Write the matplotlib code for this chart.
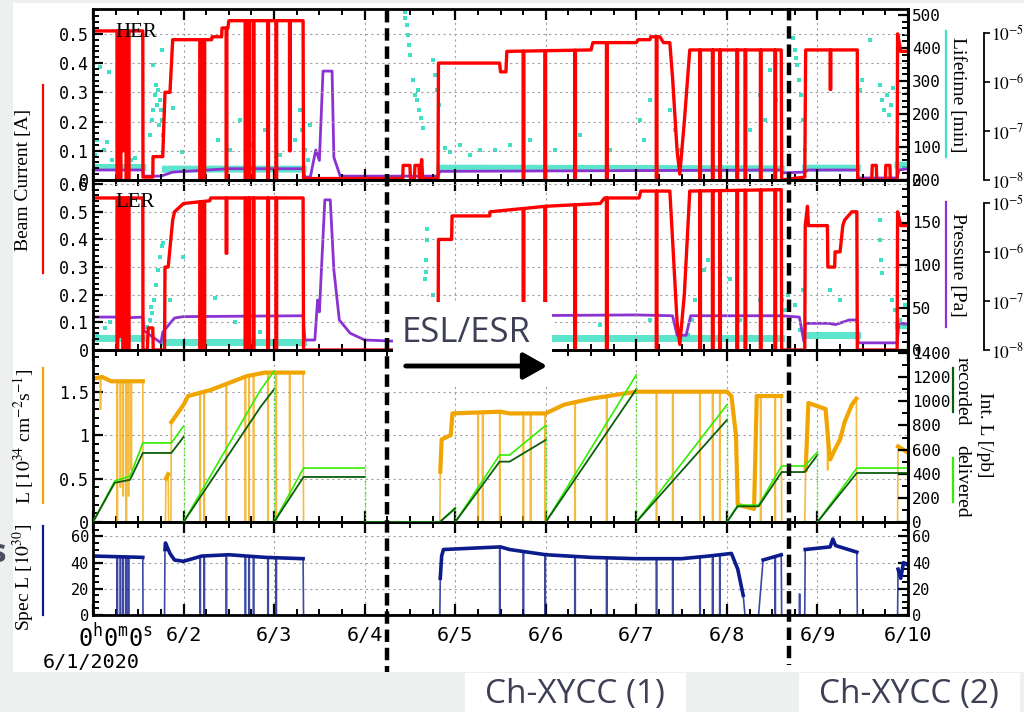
import numpy as np
import matplotlib
matplotlib.use('Agg')
import matplotlib.pyplot as plt
from matplotlib.patches import Rectangle, FancyArrowPatch
from matplotlib.lines import Line2D
from matplotlib.ticker import MultipleLocator, FuncFormatter, NullLocator

plt.rcParams['mathtext.fontset'] = 'custom'
plt.rcParams['mathtext.rm'] = 'DejaVu Sans Mono'
plt.rcParams['mathtext.it'] = 'DejaVu Sans Mono'
MONO = 'DejaVu Sans Mono'
SERIF = 'Liberation Serif'
SANS = 'Open Sans'

# time axis: days since 6/1/2020 00:00
day_labels = ['', '6/2', '6/3', '6/4', '6/5', '6/6', '6/7', '6/8', '6/9', '6/10']

# ---- HER panel ----
her_t = [0, 0.55, 0.552, 0.66, 0.663, 0.77, 0.795, 0.85, 0.88, 1.31, 1.315, 1.42, 1.425, 1.49, 1.50,
         2.32, 2.325, 3.42, 3.425, 3.50, 3.505, 3.55, 3.555, 3.60, 3.605, 3.63, 3.64, 3.81, 3.815,
         4.49, 4.50, 4.56, 4.57, 5.50, 5.52, 6.00, 6.02, 6.15, 6.16, 6.26, 6.30, 6.37, 6.40, 6.45,
         6.48, 6.53, 6.59, 7.60, 7.605, 7.86, 7.87, 8.44, 8.445, 8.60, 8.605, 8.65, 8.655, 8.75,
         8.755, 8.80, 8.805, 8.88, 8.885, 8.92, 9.0]
her_i = [0.51, 0.51, 0.01, 0.01, 0.08, 0.08, 0.30, 0.30, 0.48, 0.48, 0.49, 0.49, 0.52, 0.52, 0.545,
         0.545, 0.005, 0.005, 0.05, 0.05, 0.005, 0.005, 0.05, 0.05, 0.005, 0.07, 0.005, 0.005, 0.40,
         0.40, 0.37, 0.37, 0.44, 0.445, 0.47, 0.47, 0.48, 0.48, 0.49, 0.49, 0.47, 0.47, 0.35, 0.10,
         0.02, 0.20, 0.445, 0.445, 0.0, 0.01, 0.445, 0.445, 0.0, 0.0, 0.05, 0.05, 0.0, 0.0,
         0.05, 0.05, 0.0, 0.0, 0.50, 0.44, 0.44]
her_dips = [(0.265, 0.0), (0.30, 0.0), (0.33, 0.1), (0.365, 0.0), (0.39, 0.0), (1.18, 0.0), (1.225, 0.0),
            (1.47, 0.0), (1.68, 0.0), (1.72, 0.0), (1.77, 0.0), (1.93, 0.0), (2.02, 0.0), (2.17, 0.1),
            (4.75, 0.0), (4.99, 0.0), (5.32, 0.0), (5.67, 0.0), (6.22, 0.0), (6.70, 0.0), (6.84, 0.0),
            (6.92, 0.0), (7.11, 0.0), (7.20, 0.0), (7.37, 0.0), (7.53, 0.0), (8.14, 0.31)]
her_p_t = [0, 0.55, 0.56, 0.75, 0.88, 1.5, 2.32, 2.34, 2.40, 2.46, 2.50, 2.54, 2.57, 2.64, 2.66,
           2.73, 3.81, 3.83, 7.60, 7.61, 7.86, 7.90, 8.44, 8.45, 8.88, 8.90, 9.0]
her_p = [1.6e-8, 1.6e-8, 1.2e-8, 1.2e-8, 1.45e-8, 1.7e-8, 1.7e-8, 1.15e-8, 1.15e-8, 4.1e-8, 2.5e-8,
         1.67e-6, 1.67e-6, 1.67e-6, 2.9e-8, 1.2e-8, 1.2e-8, 1.5e-8, 1.6e-8, 1.4e-8, 1.45e-8, 1.6e-8,
         1.6e-8, 1.1e-8, 1.1e-8, 1.6e-8, 1.7e-8]
her_band_t = [0, 0.55, np.nan, 0.80, 2.32, np.nan, 3.83, 7.60, np.nan, 7.87, 8.44, np.nan, 8.89, 9.0]
her_band = [38, 38, np.nan, 33, 33, np.nan, 36, 34, np.nan, 36, 36, np.nan, 45, 45]
her_lt_t = [0.02, 0.04, 0.08, 0.15, 0.18, 0.12, 0.21, 0.30, 0.42, 0.46, 0.63, 0.65, 0.66, 0.68, 0.70,
            0.72, 0.74, 0.75, 0.76, 0.77, 0.71, 0.73, 0.76, 0.66, 0.88, 0.98, 1.18, 1.38, 1.62, 1.51,
            1.73, 1.90, 2.06, 2.23, 2.29, 2.31, 2.34, 2.37, 2.40, 3.44, 3.47, 3.48, 3.49, 3.50, 3.45,
            3.53, 3.56, 3.58, 3.60, 3.62, 3.64, 3.59, 3.75, 3.78, 3.80, 3.82, 3.89, 3.94, 4.05, 4.16,
            4.27, 4.44, 4.60, 4.83, 5.10, 5.38, 5.71, 6.04, 6.09, 6.15, 6.37, 6.43, 6.48, 6.70, 6.92,
            7.25, 7.37, 7.42, 7.48, 7.54, 7.73, 7.75, 7.77, 7.80, 7.82, 7.84, 7.86, 7.76, 8.47, 8.49,
            8.69, 8.71, 8.74, 8.77, 8.79, 8.81, 8.83, 8.58]
her_lt = [76, 121, 342, 115, 327, 91, 61, 76, 60, 67, 136, 182, 212, 258, 288,
          273, 242, 212, 182, 136, 227, 167, 394, 348, 218, 85, 221, 121, 182, 91,
          106, 152, 76, 121, 212, 152, 91, 61, 167, 509, 470, 439, 409, 379, 491,
          303, 258, 242, 212, 188, 158, 273, 364, 318, 273, 227, 97, 85, 106, 76,
          91, 91, 106, 121, 91, 136, 91, 182, 121, 242, 212, 152, 91, 121, 91,
          152, 258, 182, 333, 242, 430, 394, 348, 303, 258, 182, 91, 370, 273, 303,
          288, 242, 212, 258, 197, 227, 279, 424]

# ---- LER panel ----
ler_t = [0, 0.55, 0.552, 0.60, 0.61, 0.66, 0.665, 0.79, 0.795, 0.83, 0.88, 0.90, 1.0, 1.29, 1.30,
         2.32, 2.325, 3.81, 3.815, 3.96, 3.965, 4.38, 4.385, 5.0, 5.6, 5.65, 6.03, 6.05, 6.37, 6.40,
         6.45, 6.48, 6.53, 6.59, 7.60, 7.605, 7.86, 7.865, 7.89, 7.90, 8.11, 8.115, 8.19, 8.195, 8.25,
         8.28, 8.30, 8.38, 8.435, 8.44, 8.88, 8.885, 8.92, 9.0]
ler_i = [0.55, 0.55, 0.0, 0.0, 0.08, 0.08, 0.0, 0.0, 0.30, 0.30, 0.47, 0.50, 0.53, 0.54, 0.55,
         0.55, 0.0, 0.0, 0.40, 0.40, 0.485, 0.485, 0.50, 0.52, 0.53, 0.55, 0.55, 0.575, 0.575, 0.40,
         0.10, 0.02, 0.20, 0.575, 0.58, 0.0, 0.0, 0.45, 0.52, 0.45, 0.45, 0.30, 0.30, 0.355, 0.355,
         0.45, 0.47, 0.50, 0.50, 0.0, 0.0, 0.50, 0.45, 0.45]
ler_dips = [(0.265, 0.0), (0.30, 0.05), (0.33, 0.0), (0.365, 0.0), (0.39, 0.0), (1.18, 0.0), (1.225, 0.0),
            (1.47, 0.35), (1.68, 0.0), (1.72, 0.0), (1.77, 0.0), (1.93, 0.0), (2.02, 0.0),
            (4.75, 0.0), (4.99, 0.0), (5.32, 0.0), (5.67, 0.0), (6.22, 0.0), (6.70, 0.0), (6.84, 0.0),
            (6.92, 0.0), (7.11, 0.0), (7.20, 0.0), (7.37, 0.0), (7.53, 0.0)]
ler_p_t = [0, 0.27, 0.29, 0.33, 0.55, 0.56, 0.75, 0.77, 0.85, 0.90, 1.0, 2.32, 2.34, 2.45, 2.48, 2.50,
           2.56, 2.62, 2.66, 2.72, 2.84, 3.0, 3.81, 3.85, 6.0, 6.40, 6.45, 6.55, 6.60, 7.60, 7.80, 7.85,
           7.87, 8.12, 8.20, 8.35, 8.44, 8.45, 8.88, 8.90, 9.0]
ler_p = [4.7e-8, 4.7e-8, 2.2e-8, 4.5e-8, 4.7e-8, 2.5e-8, 1.4e-8, 2.3e-8, 3.5e-8, 4.5e-8, 4.8e-8, 5e-8,
         1.6e-8, 1.6e-8, 1.05e-7, 6e-8, 1.16e-5, 1.16e-5, 4.3e-7, 4.1e-8, 2.2e-8, 1.6e-8, 1.4e-8, 4.9e-8,
         5.2e-8, 5e-8, 2e-8, 2e-8, 5e-8, 5e-8, 4.7e-8, 1.5e-8, 3.5e-8, 3.5e-8, 3.3e-8, 4.1e-8, 4.1e-8,
         1.4e-8, 1.4e-8, 3.5e-8, 3.5e-8]
ler_band_t = [0, 0.55, np.nan, 0.80, 2.32, np.nan, 3.83, 7.60, np.nan, 7.87, 8.44, np.nan, 8.89, 9.0]
ler_band = [14, 14, np.nan, 10, 10, np.nan, 14, 14, np.nan, 18, 18, np.nan, 30, 30]
ler_lt_t = [0.60, 0.63, 0.65, 0.67, 0.70, 0.72, 0.74, 0.76, 0.77, 0.64, 0.04, 0.13, 0.19, 0.85, 0.99,
            1.35, 1.57, 1.84, 3.69, 3.69, 3.68, 3.68, 3.67, 3.75, 5.6, 6.15, 6.57, 6.61, 6.65, 6.70,
            6.75, 6.79, 6.92, 7.03, 7.14, 7.37, 7.61, 7.64, 7.67, 7.70, 7.75, 7.81, 7.84, 8.69, 8.69,
            8.70, 8.71, 8.82, 8.86, 8.91, 8.97, 8.14, 8.25]
ler_lt = [27, 35, 44, 59, 77, 94, 109, 122, 126, 51, 18, 26, 33, 59, 110,
          61, 33, 21, 142, 130, 106, 92, 83, 65, 30, 35, 18, 35, 59, 77,
          94, 106, 59, 83, 35, 59, 59, 47, 65, 35, 53, 24, 71, 153, 130,
          106, 91, 59, 47, 35, 53, 71, 59]

# ---- luminosity panel ----
lum_t = [0, 0.10, 0.20, 0.55, 0.552, 0.80, 0.805, 0.83, 0.835, 0.86, 0.865, 0.90, 1.0, 1.05, 1.30,
         1.50, 1.70, 1.90, 2.32, 2.325, 3.83, 3.835, 3.85, 3.95, 3.97, 4.50, 4.60, 5.0, 5.2, 5.5, 6.0,
         6.2, 7.0, 7.05, 7.10, 7.12, 7.30, 7.33, 7.60, 7.605, 7.86, 7.87, 7.90, 8.09, 8.13, 8.14,
         8.20, 8.25, 8.30, 8.38, 8.43, 8.435, 8.885, 8.89, 9.0]
lum = [1.65, 1.67, 1.62, 1.62, 0.0, 0.0, 0.50, 0.55, 0.0, 0.0, 1.15, 1.20, 1.35, 1.45, 1.52,
       1.60, 1.68, 1.72, 1.72, 0.0, 0.0, 0.58, 0.95, 1.0, 1.25, 1.27, 1.25, 1.25, 1.35, 1.42, 1.50,
       1.50, 1.50, 1.45, 1.0, 0.20, 0.15, 1.45, 1.45, 0.0, 0.0, 0.60, 1.37, 1.30, 0.80, 0.72,
       0.85, 0.95, 1.15, 1.35, 1.42, 0.0, 0.0, 0.87, 0.80]
lum_dips = [(0.08, 1.3), (0.265, 0.0), (0.30, 0.4), (0.33, 0.3), (0.365, 0.0), (0.39, 0.3), (0.42, 0.6),
            (1.18, 0.0), (1.225, 0.0), (1.47, 0.0), (1.68, 0.0), (1.72, 0.0), (1.77, 0.0), (1.93, 0.0),
            (2.02, 0.0), (2.17, 0.3), (4.25, 0.0), (4.30, 0.0), (4.49, 0.0), (4.75, 0.0), (4.83, 0.0),
            (4.99, 0.0), (5.32, 0.0), (5.67, 0.0), (6.22, 0.0), (6.40, 0.0), (6.70, 0.0), (6.84, 0.0),
            (6.92, 0.0), (7.37, 0.0), (7.53, 0.0), (8.11, 0.6)]
# integrated luminosity, reset every day at 0:00
int_days = [
    ([0, 0.24, 0.41, 0.55, 0.865, 1.0], [0, 340, 380, 655, 655, 795], [0, 325, 350, 572, 572, 704]),
    ([1.0, 1.85, 2.0], [0, 1094, 1250], [0, 953, 1100]),
    ([2.0, 2.325, 3.0], [0, 447, 447], [0, 373, 373]),
    ([3.0, 3.83, 4.0], [0, 0, 120], [0, 0, 112]),
    ([4.0, 4.49, 4.60, 5.0], [0, 555, 555, 800], [0, 500, 500, 680]),
    ([5.0, 6.0], [0, 1220], [0, 1100]),
    ([6.0, 7.0], [0, 970], [0, 845]),
    ([7.0, 7.12, 7.35, 7.605, 7.86, 8.0], [0, 140, 140, 464, 464, 580], [0, 130, 130, 414, 414, 555]),
    ([8.0, 8.435, 9.0], [0, 447, 447], [0, 406, 406]),
]

# ---- specific luminosity panel ----
spec_t = [0, 0.55, 0.552, 0.79, 0.795, 0.80, 0.85, 0.90, 1.0, 1.2, 1.5, 1.9, 2.32, 2.325, 3.83, 3.835,
          3.85, 3.87, 4.5, 4.6, 5.0, 5.5, 6.0, 6.5, 6.8, 7.05, 7.12, 7.18, 7.20, 7.35, 7.40, 7.60,
          7.605, 7.86, 7.865, 8.14, 8.17, 8.20, 8.435, 8.44, 8.885, 8.89, 8.92, 8.95, 9.0]
spec = [45, 44, 0, 0, 50, 55, 47, 42, 41, 45, 46, 44, 43, 0, 0, 28,
        45, 50, 52, 50, 46, 44, 43, 43, 45, 47, 35, 15, 0, 0, 42, 46,
        0, 0, 50, 52, 58, 53, 48, 0, 0, 35, 28, 40, 38]
spec_dips = [(0.265, 0.0), (0.30, 0.0), (0.33, 0.0), (0.365, 0.0), (0.39, 0.0), (1.18, 0.0), (1.225, 0.0),
             (1.47, 0.0), (1.68, 0.0), (1.72, 0.0), (1.77, 0.0), (1.93, 0.0), (2.02, 0.0),
             (4.49, 0.0), (4.75, 0.0), (4.99, 0.0), (5.32, 0.0), (5.67, 0.0), (6.22, 0.0), (6.40, 0.0),
             (6.70, 0.0), (6.84, 0.0), (6.92, 0.0), (7.53, 0.0), (7.80, 16)]

RED = '#ff0000'
CYAN = '#3fe0c5'
PURPLE = '#8c32d2'
ORANGE = '#f0a500'
NAVY = '#0c1c8c'
LIME = '#33ee00'
DKGREEN = '#0b5e0b'
SLATE = '#3d3f55'
GRID = '#a0a0a0'

W, H = 1024, 712


def fx(x):
    return x / W


def fy(y):
    return 1 - y / H


def with_dips(t, v, dips, w=0.008):
    pts = [(ti, 0, vi) for ti, vi in zip(t, v)]
    for td, low in dips:
        top = float(np.interp(td, t, v))
        pts += [(td, 1, top), (td, 2, low), (td + w, 3, low), (td + w, 4, top)]
    pts.sort()
    return [p[0] for p in pts], [p[2] for p in pts]


def beam_on(v, floor):
    # hide the parts of a trace that sit on the zero line
    v = np.asarray(v, dtype=float)
    return np.where(v > floor, v, np.nan)


fig = plt.figure(figsize=(W / 100, H / 100), dpi=100, facecolor='#eef0f0')
fig.patches.append(Rectangle((fx(13), fy(672)), 1 - fx(13), fy(3) - fy(672), transform=fig.transFigure,
                             facecolor='white', edgecolor='none', zorder=-10))

x0, x1 = 93, 908
panels = [(9, 180), (180, 350), (350, 522), (522, 615)]
axes = []
for top, bot in panels:
    ax = fig.add_axes([fx(x0), fy(bot), fx(x1) - fx(x0), (bot - top) / H])
    axes.append(ax)
ax1, ax2, ax3, ax4 = axes


def style_main(ax, major, minor):
    ax.set_xlim(0, 9)
    ax.patch.set_visible(False)
    for s in ax.spines.values():
        s.set_linewidth(2)
    ax.xaxis.set_major_locator(MultipleLocator(1))
    ax.xaxis.set_minor_locator(MultipleLocator(0.25))
    ax.yaxis.set_major_locator(MultipleLocator(major))
    ax.yaxis.set_minor_locator(MultipleLocator(minor))
    ax.tick_params(axis='x', which='both', direction='in', top=True, bottom=True, labelbottom=False)
    ax.tick_params(axis='x', which='major', length=8, width=1.6)
    ax.tick_params(axis='x', which='minor', length=4, width=1.4)
    ax.tick_params(axis='y', which='major', direction='in', length=7, width=1.6, labelsize=12, pad=3)
    ax.tick_params(axis='y', which='minor', direction='in', length=4.5, width=1.4)
    for lab in ax.get_yticklabels():
        lab.set_fontfamily(MONO)
    ax.grid(True, which='major', color=GRID, linestyle=(0, (2, 3)), linewidth=0.8)


def style_right(ax, major, minor, size=11.5):
    ax.patch.set_visible(False)
    for s in ['top', 'bottom', 'left']:
        ax.spines[s].set_visible(False)
    ax.spines['right'].set_linewidth(2)
    ax.yaxis.set_major_locator(MultipleLocator(major))
    ax.yaxis.set_minor_locator(MultipleLocator(minor))
    ax.tick_params(axis='y', which='major', direction='in', length=7, width=1.6, labelsize=size, pad=3)
    ax.tick_params(axis='y', which='minor', direction='in', length=4.5, width=1.4)
    for lab in ax.get_yticklabels():
        lab.set_fontfamily(MONO)


def style_log(ax, top):
    ax.set_yscale('log')
    ax.set_ylim(1e-8, top)
    ax.patch.set_visible(False)
    for s in ['top', 'bottom', 'left']:
        ax.spines[s].set_visible(False)
    ax.spines['right'].set_position(('axes', (984 - x0) / (x1 - x0)))
    ax.spines['right'].set_bounds(1e-8, 1e-5)
    ax.spines['right'].set_linewidth(1.3)
    ax.set_yticks([1e-8, 1e-7, 1e-6, 1e-5])
    ax.set_yticklabels([r'$10^{-8}$', r'$10^{-7}$', r'$10^{-6}$', r'$10^{-5}$'])
    ax.yaxis.set_minor_locator(NullLocator())
    ax.tick_params(axis='y', direction='out', length=4, width=1.2, labelsize=12.5, pad=1)
    for lab in ax.get_yticklabels():
        lab.set_math_fontfamily('stix')


fmt1 = FuncFormatter(lambda v, p: '0' if abs(v) < 1e-9 else f'{v:.1f}')
fmt3 = FuncFormatter(lambda v, p: '0' if abs(v) < 1e-9 else (f'{v:.0f}' if abs(v - round(v)) < 1e-9 else f'{v:.1f}'))

# --- panel 1: HER ---
ax1lt = ax1.twinx()
ax1p = ax1.twinx()
style_main(ax1, 0.1, 0.02)
ax1.set_ylim(0, 0.585)
ax1.yaxis.set_major_formatter(fmt1)
style_right(ax1lt, 100, 20)
ax1lt.set_ylim(0, 518)
style_log(ax1p, 10 ** -4.51)
ax1.set_zorder(3)
ax1p.set_zorder(2)
ax1lt.set_zorder(1)
ax1lt.plot(her_band_t, her_band, color=CYAN, lw=5, alpha=0.85)
ax1lt.plot(her_lt_t, her_lt, 's', color=CYAN, ms=2.2, mew=0)
ax1p.plot(her_p_t, her_p, color=PURPLE, lw=2)
t, v = with_dips(her_t, her_i, her_dips)
ax1.plot(t, v, color=RED, lw=2.4)
ax1.text((115 - x0) / (x1 - x0), 1 - (37 - 9) / 171, 'HER', transform=ax1.transAxes,
         fontfamily=SERIF, fontsize=15, va='baseline')

# --- panel 2: LER ---
ax2lt = ax2.twinx()
ax2p = ax2.twinx()
style_main(ax2, 0.1, 0.02)
ax2.set_ylim(0, 0.615)
ax2.yaxis.set_major_formatter(fmt1)
style_right(ax2lt, 50, 10)
ax2lt.set_ylim(0, 200)
style_log(ax2p, 10 ** -4.53)
ax2.set_zorder(3)
ax2p.set_zorder(2)
ax2lt.set_zorder(1)
ax2lt.plot(ler_band_t, ler_band, color=CYAN, lw=5, alpha=0.85)
ax2lt.plot(ler_lt_t, ler_lt, 's', color=CYAN, ms=2.2, mew=0)
ax2p.plot(ler_p_t, ler_p, color=PURPLE, lw=2)
t, v = with_dips(ler_t, ler_i, ler_dips)
ax2.plot(t, v, color=RED, lw=2.4)
ax2.text((115 - x0) / (x1 - x0), 1 - (207 - 180) / 170, 'LER', transform=ax2.transAxes,
         fontfamily=SERIF, fontsize=15, va='baseline')

# --- panel 3: luminosity ---
ax3r = ax3.twinx()
style_main(ax3, 0.5, 0.1)
ax3.set_ylim(0, 1.98)
ax3.yaxis.set_major_formatter(fmt3)
style_right(ax3r, 200, 100)
ax3r.set_ylim(0, 1425)
t, v = with_dips(lum_t, lum, lum_dips, w=0.006)
ax3.plot(t, v, color=ORANGE, lw=1.2, alpha=0.75)
ax3.plot(lum_t, beam_on(lum, 0.05), color=ORANGE, lw=3)
for dt, dd, dr in int_days:
    ax3r.plot(dt, dd, color=LIME, lw=1.2)
    ax3r.plot(dt, dr, color=DKGREEN, lw=1.3)
    if dd[-1] > 0 and dt[-1] < 9:
        ax3r.vlines(dt[-1], 0, dd[-1], colors=LIME, linestyles=':', lw=1)

# --- panel 4: spec L ---
style_main(ax4, 20, 5)
ax4.set_ylim(0, 71)
ax4.tick_params(axis='y', which='both', right=True, labelright=True, labelsize=11)
for lab in ax4.get_yticklabels(which='both'):
    lab.set_fontfamily(MONO)
t, v = with_dips(spec_t, spec, spec_dips, w=0.006)
ax4.plot(t, v, color=NAVY, lw=1.2, alpha=0.8)
ax4.plot(spec_t, beam_on(spec, 1), color=NAVY, lw=2.6)
ax4.set_xticks(range(10))
ax4.set_xticklabels(day_labels)
ax4.tick_params(axis='x', labelbottom=True, labelsize=14.5, pad=8)
for lab in ax4.get_xticklabels():
    lab.set_fontfamily(MONO)
fig.text(fx(78), fy(624), r'$\mathrm{0^{h}0^{m}0^{s}}$', fontsize=17, va='top', ha='left',
         math_fontfamily='custom')
fig.text(fx(91), fy(662), '6/1/2020', fontfamily=MONO, fontsize=14.5, ha='center', va='center')

# --- side labels ---
fig.text(fx(24), fy(180), 'Beam Current [A]', rotation=90, fontfamily=SERIF, fontsize=14,
         ha='center', va='center')
fig.add_artist(Line2D([fx(43), fx(43)], [fy(85), fy(273)], color=RED, lw=1.6))
fig.text(fx(24), fy(436), r'L [$10^{34}$ cm$^{-2}$s$^{-1}$]', rotation=90, fontfamily=SERIF,
         fontsize=14, ha='center', va='center', math_fontfamily='stix')
fig.add_artist(Line2D([fx(43), fx(43)], [fy(368), fy(503)], color=ORANGE, lw=1.6))
fig.text(fx(24), fy(577), r'Spec L [$10^{30}$]', rotation=90, fontfamily=SERIF, fontsize=14,
         ha='center', va='center', math_fontfamily='stix')
fig.add_artist(Line2D([fx(43), fx(43)], [fy(526), fy(615)], color=NAVY, lw=1.6))

fig.text(fx(958), fy(95), 'Lifetime [min]', rotation=270, fontfamily=SERIF, fontsize=14,
         ha='center', va='center')
fig.add_artist(Line2D([fx(946), fx(946)], [fy(31), fy(157)], color=CYAN, lw=1.6))
fig.text(fx(958), fy(265), 'Pressure [Pa]', rotation=270, fontfamily=SERIF, fontsize=14,
         ha='center', va='center')
fig.add_artist(Line2D([fx(946), fx(946)], [fy(202), fy(327)], color=PURPLE, lw=1.6))
fig.text(fx(985), fy(435), 'Int. L [/pb]', rotation=270, fontfamily=SERIF, fontsize=14,
         ha='center', va='center')
fig.text(fx(962), fy(391), 'recorded', rotation=270, fontfamily=SERIF, fontsize=14,
         ha='center', va='center')
fig.add_artist(Line2D([fx(953), fx(953)], [fy(368), fy(412)], color=DKGREEN, lw=1.6))
fig.text(fx(962), fy(481), 'delivered', rotation=270, fontfamily=SERIF, fontsize=14,
         ha='center', va='center')
fig.add_artist(Line2D([fx(953), fx(953)], [fy(458), fy(502)], color=LIME, lw=1.6))

# --- slide overlays ---
fig.patches.append(Rectangle((fx(393), fy(385)), fx(552) - fx(393), fy(302) - fy(385),
                             transform=fig.transFigure, facecolor='white', edgecolor='none', zorder=10))
fig.text(fx(402), fy(333), 'ESL/ESR', fontfamily=SANS, fontsize=25, color=SLATE,
         ha='left', va='center', zorder=11)
fig.add_artist(FancyArrowPatch((fx(403), fy(366)), (fx(550), fy(366)), transform=fig.transFigure,
                               arrowstyle='-|>,head_length=0.8,head_width=0.45', mutation_scale=18,
                               color='black', lw=3.5, zorder=11))
fig.add_artist(Line2D([fx(387), fx(387)], [fy(10), fy(672)], color='black', lw=3.2,
                      dashes=(2.8, 1.3), zorder=20))
fig.add_artist(Line2D([fx(789), fx(789)], [fy(8), fy(665)], color='black', lw=3.2,
                      dashes=(2.8, 1.3), zorder=20))
fig.patches.append(Rectangle((fx(465), 0), fx(686) - fx(465), fy(673), transform=fig.transFigure,
                             facecolor='white', edgecolor='none', zorder=10))
fig.patches.append(Rectangle((fx(799), 0), fx(1020) - fx(799), fy(673), transform=fig.transFigure,
                             facecolor='white', edgecolor='none', zorder=10))
fig.text(fx(575), fy(695), 'Ch-XYCC (1)', fontfamily=SANS, fontsize=24, color=SLATE,
         ha='center', va='center', zorder=11)
fig.text(fx(909), fy(695), 'Ch-XYCC (2)', fontfamily=SANS, fontsize=24, color=SLATE,
         ha='center', va='center', zorder=11)
fig.text(fx(-2), fy(553), 's', fontfamily=SANS, fontsize=24, fontweight='bold', color='#4a4c5e',
         ha='center', va='center')

fig.savefig('out.png', dpi=100, facecolor=fig.get_facecolor())
